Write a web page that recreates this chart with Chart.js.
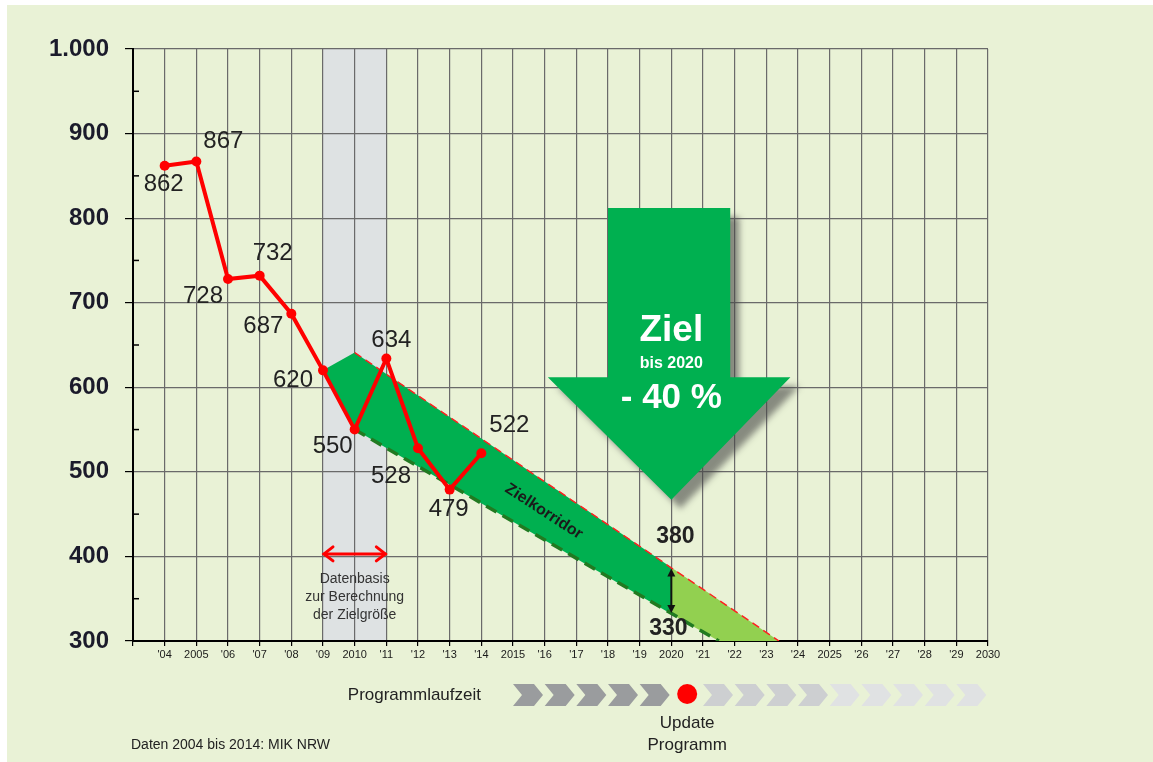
<!DOCTYPE html>
<html>
<head>
<meta charset="utf-8">
<script src="https://cdn.jsdelivr.net/npm/chart.js@4.4.1/dist/chart.umd.min.js"></script>
<style>
  html, body { margin: 0; padding: 0; background: #fff; }
</style>
</head>
<body>
<canvas id="chart" width="1153" height="762"></canvas>
<script>
// ==========================================
// DATEN
// ==========================================
const years  = [2004, 2005, 2006, 2007, 2008, 2009, 2010, 2011, 2012, 2013, 2014];
const values = [862, 867, 728, 732, 687, 620, 550, 634, 528, 479, 522];

const xTickLabels = ["'04", "2005", "'06", "'07", "'08", "'09", "2010", "'11", "'12", "'13", "'14",
                     "2015", "'16", "'17", "'18", "'19", "2020", "'21", "'22", "'23", "'24",
                     "2025", "'26", "'27", "'28", "'29", "2030"];
const yTickValues = [300, 400, 500, 600, 700, 800, 900, 1000];

// Zielkorridor (bis 2020) und Verlängerung
const corridorYears  = [2009, 2010, 2020];
const corridorUpper  = [620, 641, 387];
const corridorLower  = [620, 550, 332];
const extUpperYears  = [2020, 2023.4];
const extUpper       = [387, 300];
const extLowerYears  = [2020, 2021.5, 2023.4];
const extLower       = [332, 300, 300];
const upperLineYears = [2010, 2023.4];
const upperLineVals  = [641, 300];
const lowerLineYears = [2010, 2021.5];
const lowerLineVals  = [550, 300];
const targetHigh = 380;
const targetLow  = 330;

// Datenbasis-Zeitraum
const baseStart = 2009;
const baseEnd   = 2011;

// Programmlaufzeit
const doneYears    = [2015, 2016, 2017, 2018, 2019];
const plannedYears = [2021, 2022, 2023, 2024];
const laterYears   = [2025, 2026, 2027, 2028, 2029];
const updateYear   = 2020.5;

// label offsets (px) for the value labels, same order as values
const labelOffsets = [[-1, 19], [27, -20], [-25, 17], [13, -22], [-28, 13], [-30, 10],
                      [-22, 17], [5, -18], [-27, 28], [-1, 20], [28, -28]];

const pts = (xs, ys) => xs.map((x, i) => ({ x: x, y: ys[i] }));
const fmt = v => v >= 1000 ? Math.floor(v / 1000) + '.' + String(v % 1000).padStart(3, '0') : String(v);

Chart.defaults.font.family = '"Liberation Sans", Arial, sans-serif';

// ==========================================
// ZEICHEN-PLUGIN (Hintergrund, Beschriftung, Pfeile)
// ==========================================
const decor = {
    id: 'decor',
    beforeDraw(chart) {
        const ctx = chart.ctx, x = chart.scales.x, a = chart.chartArea;
        ctx.save();
        ctx.fillStyle = '#ffffff';
        ctx.fillRect(0, 0, chart.width, chart.height);
        ctx.fillStyle = '#E9F2D6';
        ctx.fillRect(7, 5, chart.width - 7, chart.height - 5);
        // graues Band Datenbasis
        ctx.fillStyle = '#DEE2E3';
        const x0 = x.getPixelForValue(baseStart), x1 = x.getPixelForValue(baseEnd);
        ctx.fillRect(x0, a.top, x1 - x0, a.bottom - a.top);
        ctx.restore();
    },
    afterDraw(chart) {
        const ctx = chart.ctx, xs = chart.scales.x, ys = chart.scales.y, a = chart.chartArea;
        const px = v => xs.getPixelForValue(v), py = v => ys.getPixelForValue(v);
        ctx.save();

        // kleine Striche innen an der y-Achse
        ctx.strokeStyle = '#000'; ctx.lineWidth = 1.5;
        for (let v = 350; v < 1000; v += 100) {
            ctx.beginPath(); ctx.moveTo(a.left, py(v)); ctx.lineTo(a.left + 6, py(v)); ctx.stroke();
        }

        // Werte
        ctx.fillStyle = '#222'; ctx.font = '24px "Liberation Sans", Arial';
        ctx.textAlign = 'center'; ctx.textBaseline = 'middle';
        years.forEach((yr, i) => {
            ctx.fillText(String(values[i]), px(yr) + labelOffsets[i][0], py(values[i]) + labelOffsets[i][1]);
        });

        // Zielkorridor Schrift
        ctx.save();
        ctx.translate(px(2015.97), py(453));
        ctx.rotate(33 * Math.PI / 180);
        ctx.font = 'bold 16px "Liberation Sans", Arial';
        ctx.fillStyle = '#1a1a1a';
        ctx.fillText('Zielkorridor', 0, 0);
        ctx.restore();

        // 380 / 330
        ctx.font = 'bold 23px "Liberation Sans", Arial';
        ctx.fillStyle = '#222';
        ctx.fillText(String(targetHigh), px(2020) + 4, py(387) - 31);
        ctx.fillText(String(targetLow), px(2020) - 3, py(332) + 15);

        // schwarzer Doppelpfeil bei 2020
        const ax = px(2020), ay0 = py(387) + 1, ay1 = py(332) - 1;
        ctx.strokeStyle = '#111'; ctx.fillStyle = '#111'; ctx.lineWidth = 2;
        ctx.beginPath(); ctx.moveTo(ax, ay0 + 6); ctx.lineTo(ax, ay1 - 6); ctx.stroke();
        ctx.beginPath(); ctx.moveTo(ax, ay0); ctx.lineTo(ax - 4, ay0 + 8); ctx.lineTo(ax + 4, ay0 + 8); ctx.fill();
        ctx.beginPath(); ctx.moveTo(ax, ay1); ctx.lineTo(ax - 4, ay1 - 8); ctx.lineTo(ax + 4, ay1 - 8); ctx.fill();

        // roter Doppelpfeil Datenbasis
        const rx0 = px(baseStart), rx1 = px(baseEnd), ry = py(403);
        ctx.strokeStyle = '#ff0000'; ctx.lineWidth = 3; ctx.lineCap = 'round';
        ctx.beginPath(); ctx.moveTo(rx0 + 1, ry); ctx.lineTo(rx1 - 1, ry); ctx.stroke();
        ctx.beginPath(); ctx.moveTo(rx0 + 10, ry - 7); ctx.lineTo(rx0 + 1, ry); ctx.lineTo(rx0 + 10, ry + 7); ctx.stroke();
        ctx.beginPath(); ctx.moveTo(rx1 - 10, ry - 7); ctx.lineTo(rx1 - 1, ry); ctx.lineTo(rx1 - 10, ry + 7); ctx.stroke();
        ctx.lineCap = 'butt';

        ctx.fillStyle = '#333'; ctx.font = '14px "Liberation Sans", Arial';
        const cx = (rx0 + rx1) / 2;
        ctx.fillText('Datenbasis', cx, ry + 25);
        ctx.fillText('zur Berechnung', cx, ry + 43);
        ctx.fillText('der Zielgröße', cx, ry + 61);

        // großer grüner Pfeil
        ctx.save();
        ctx.shadowColor = 'rgba(70,70,70,0.6)';
        ctx.shadowBlur = 6; ctx.shadowOffsetX = 9; ctx.shadowOffsetY = 9;
        ctx.fillStyle = '#00B050';
        ctx.beginPath();
        ctx.moveTo(px(2018.0), py(812));
        ctx.lineTo(px(2021.86), py(812));
        ctx.lineTo(px(2021.86), py(612));
        ctx.lineTo(px(2023.76), py(612));
        ctx.lineTo(px(2020), py(467));
        ctx.lineTo(px(2016.1), py(612));
        ctx.lineTo(px(2018.0), py(612));
        ctx.closePath();
        ctx.fill();
        ctx.restore();
        const tx = px(2020);
        ctx.fillStyle = '#fff';
        ctx.font = 'bold 37px "Liberation Sans", Arial';
        ctx.fillText('Ziel', tx, 331);
        ctx.font = 'bold 16px "Liberation Sans", Arial';
        ctx.fillText('bis 2020', tx, 364);
        ctx.font = 'bold 35px "Liberation Sans", Arial';
        ctx.fillText('- 40 %', tx, 398);

        // Programmlaufzeit
        ctx.fillStyle = '#222'; ctx.font = '17px "Liberation Sans", Arial';
        ctx.textAlign = 'right';
        ctx.fillText('Programmlaufzeit', 481, 695);
        const chevron = (yr, color) => {
            const x0 = px(yr), top = 684, bot = 706, mid = 695;
            ctx.fillStyle = color;
            ctx.beginPath();
            ctx.moveTo(x0, top); ctx.lineTo(x0 + 21, top); ctx.lineTo(x0 + 30, mid);
            ctx.lineTo(x0 + 21, bot); ctx.lineTo(x0, bot); ctx.lineTo(x0 + 9, mid);
            ctx.closePath(); ctx.fill();
        };
        doneYears.forEach(y => chevron(y, '#9A9C9E'));
        plannedYears.forEach(y => chevron(y, '#CDCFD1'));
        laterYears.forEach(y => chevron(y, '#E0E2E3'));
        ctx.fillStyle = '#ff0000';
        ctx.beginPath(); ctx.arc(px(updateYear), 694, 10, 0, Math.PI * 2); ctx.fill();

        ctx.textAlign = 'center'; ctx.fillStyle = '#222';
        ctx.fillText('Update', px(updateYear), 723);
        ctx.fillText('Programm', px(updateYear), 745);

        ctx.textAlign = 'left'; ctx.font = '14px "Liberation Sans", Arial';
        ctx.fillText('Daten 2004 bis 2014: MIK NRW', 131, 745);
        ctx.restore();
    }
};

// ==========================================
// GRAFIK
// ==========================================
const ctx = document.getElementById('chart');
new Chart(ctx, {
    type: 'line',
    data: {
        datasets: [
            { data: pts(years, values), borderColor: '#ff0000', borderWidth: 4,
              pointRadius: 5, pointBackgroundColor: '#ff0000', pointBorderWidth: 0, fill: false },
            { data: pts(upperLineYears, upperLineVals), borderColor: '#ff2020', borderWidth: 1.5,
              borderDash: [8, 5], pointRadius: 0, fill: false },
            { data: pts(lowerLineYears, lowerLineVals), borderColor: '#217a21', borderWidth: 3.5,
              borderDash: [12, 7], pointRadius: 0, fill: false },
            { data: pts(corridorYears, corridorUpper), borderColor: 'transparent', pointRadius: 0, fill: false },
            { data: pts(corridorYears, corridorLower), borderColor: 'transparent', pointRadius: 0,
              fill: 3, backgroundColor: '#00B050' },
            { data: pts(extUpperYears, extUpper), borderColor: 'transparent', pointRadius: 0, fill: false },
            { data: pts(extLowerYears, extLower), borderColor: 'transparent', pointRadius: 0,
              fill: 5, backgroundColor: '#92D050' }
        ]
    },
    options: {
        responsive: false,
        animation: false,
        layout: { padding: { left: 0, right: 165, top: 49, bottom: 0 } },
        plugins: { legend: { display: false }, tooltip: { enabled: false } },
        scales: {
            x: {
                type: 'linear', min: 2003, max: 2030,
                afterFit: s => { s.height = 121; },
                border: { color: '#000', width: 2 },
                grid: { color: '#6a6a6a', lineWidth: 1.2, tickLength: 5, tickColor: '#000' },
                ticks: {
                    stepSize: 1, autoSkip: false, maxRotation: 0, padding: 2,
                    color: '#1a1a1a', font: { size: 11 },
                    callback: v => v < 2004 ? '' : xTickLabels[v - 2004]
                }
            },
            y: {
                min: 300, max: 1000,
                afterFit: s => { s.width = 133; },
                border: { color: '#000', width: 2 },
                grid: {
                    color: c => yTickValues.includes(c.tick.value) ? '#6a6a6a' : 'transparent',
                    tickColor: c => yTickValues.includes(c.tick.value) ? '#000' : 'transparent',
                    lineWidth: 1.2, tickLength: 8
                },
                ticks: {
                    stepSize: 50, padding: 16, color: '#1b1b2b',
                    font: { size: 24, weight: 'bold' },
                    callback: v => yTickValues.includes(v) ? fmt(v) : ''
                }
            }
        }
    },
    plugins: [decor]
});
</script>
</body>
</html>
